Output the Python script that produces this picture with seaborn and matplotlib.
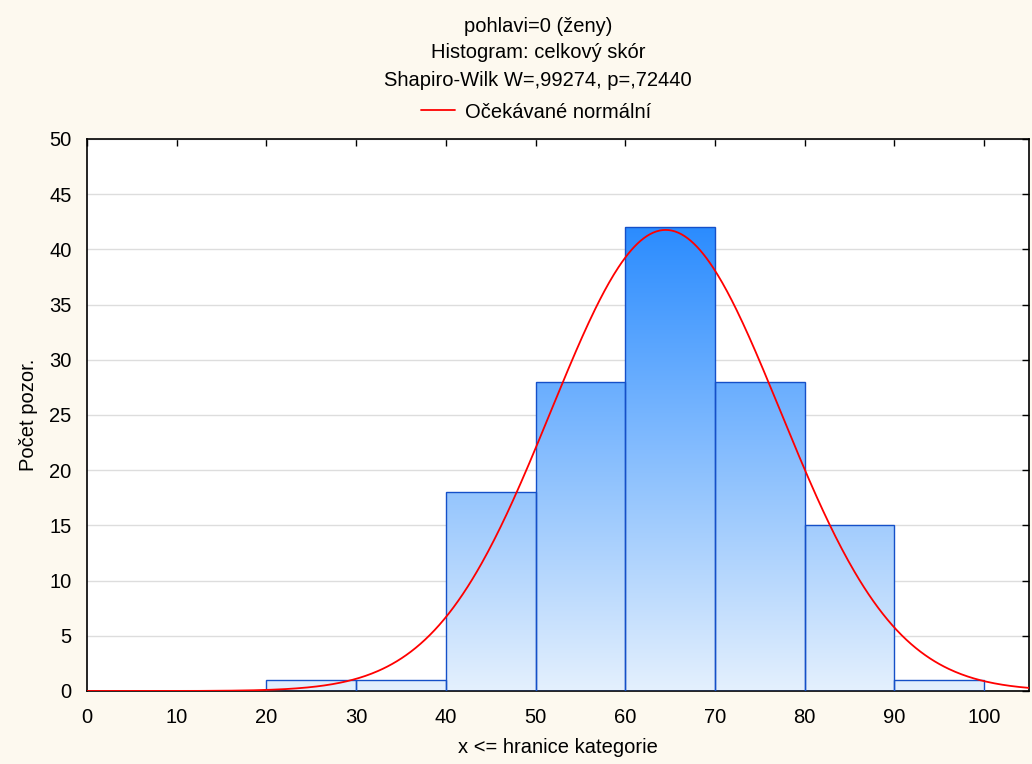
import numpy as np
import matplotlib
matplotlib.use("Agg")
import matplotlib.pyplot as plt
import seaborn as sns
from matplotlib.colors import LinearSegmentedColormap

# Data
bin_edges = [20, 30, 40, 50, 60, 70, 80, 90, 100]
counts = [1, 1, 18, 28, 42, 28, 15, 1]
fit_mean = 64.5
fit_sd = 12.8
bin_width = 10
x_ticks = [0, 10, 20, 30, 40, 50, 60, 70, 80, 90, 100]
y_ticks = [0, 5, 10, 15, 20, 25, 30, 35, 40, 45, 50]

title_lines = ["pohlavi=0 (ženy)", "Histogram: celkový skór",
               "Shapiro-Wilk W=,99274, p=,72440"]
legend_label = "Očekávané normální"

sns.set_style("white")
plt.rcParams['font.family'] = ['Liberation Sans', 'DejaVu Sans']
plt.rcParams['text.color'] = 'black'
plt.rcParams['axes.labelcolor'] = 'black'

FS = 14.5
bg = "#FDF9EF"
fig = plt.figure(figsize=(10.32, 7.64), dpi=100, facecolor=bg)
ax = fig.add_axes([87/1032, 1-691/764, (1029-87)/1032, (691-139)/764])
ax.set_facecolor("white")

centers = [(bin_edges[i] + bin_edges[i+1]) / 2 for i in range(len(counts))]
sns.histplot(x=centers, weights=counts, bins=bin_edges, ax=ax,
             facecolor="none", edgecolor="#1550C8", linewidth=1.0, zorder=3)

cmap = LinearSegmentedColormap.from_list("g", ["#E4F0FD", "#2B8CFF"])
grad = np.linspace(0, 1, 256).reshape(-1, 1)
for p in list(ax.patches):
    im = ax.imshow(grad, cmap=cmap, origin="lower", aspect="auto",
                   extent=[0, 105, 0, max(counts)], zorder=2, interpolation="bilinear")
    im.set_clip_path(p)

N = sum(counts)
xs = np.linspace(0, 105, 600)
ys = N * bin_width / (fit_sd * np.sqrt(2 * np.pi)) * np.exp(-0.5 * ((xs - fit_mean) / fit_sd) ** 2)
sns.lineplot(x=xs, y=ys, ax=ax, color="red", linewidth=1.3, zorder=4, label=legend_label)

ax.set_xlim(0, 105)
ax.set_ylim(0, 50)
ax.set_xticks(x_ticks)
ax.set_yticks(y_ticks)
ax.yaxis.grid(True, color="#DDDDDD", linewidth=1, zorder=0)
ax.set_axisbelow(True)
ax.tick_params(direction="in", length=5, width=1, top=True, right=True,
               labelsize=FS, colors="black")
ax.tick_params(axis="x", pad=12)
ax.tick_params(axis="y", pad=11)
for s in ax.spines.values():
    s.set_color("black")
    s.set_linewidth(1.2)
    s.set_visible(True)

ax.set_xlabel("x <= hranice kategorie", fontsize=FS, labelpad=8)
ax.set_ylabel("Počet pozor.", fontsize=FS, labelpad=8)

ys_title = [27, 53, 81]
for t, yy in zip(title_lines, ys_title):
    fig.text(538/1032, 1 - yy/764, t, ha="center", va="center", fontsize=FS, color="black")

leg = ax.legend(loc="center", bbox_to_anchor=(536/1032, 1 - 112/764),
                bbox_transform=fig.transFigure, frameon=False, fontsize=FS,
                handlelength=1.7, handletextpad=0.5)

fig.savefig("out.png", dpi=100, facecolor=bg)
